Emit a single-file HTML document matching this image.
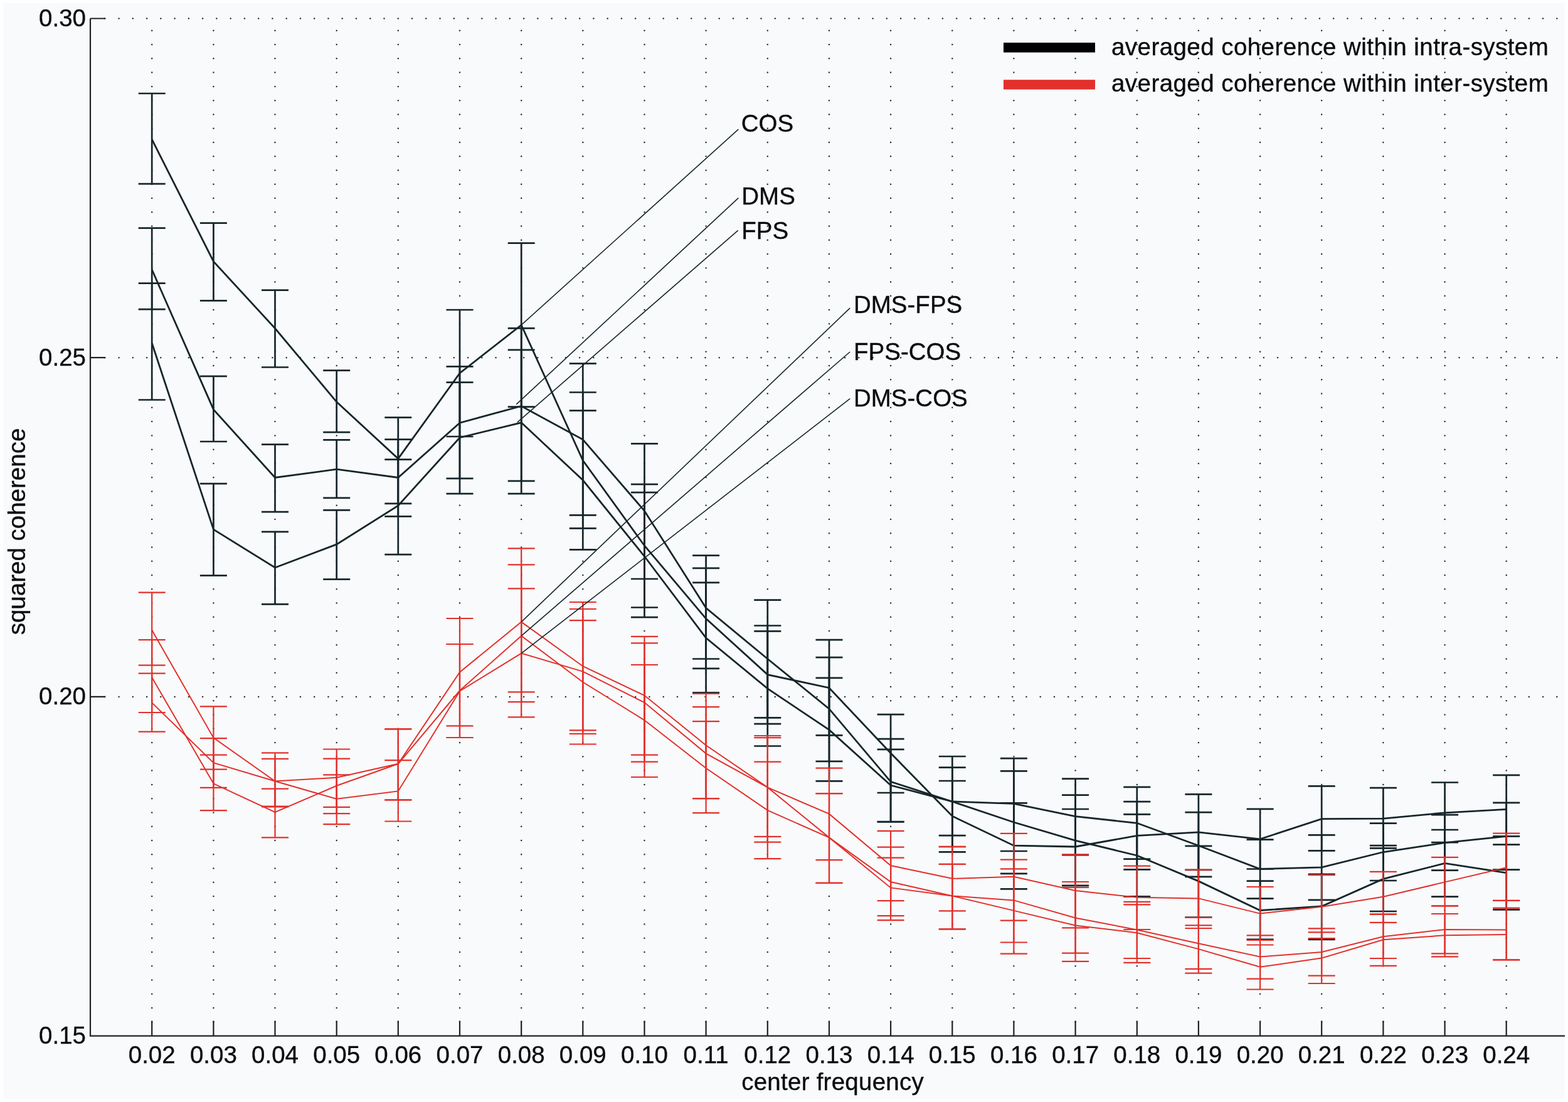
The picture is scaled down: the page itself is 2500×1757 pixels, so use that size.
<!DOCTYPE html>
<html><head><meta charset="utf-8"><title>squared coherence vs center frequency</title>
<style>html,body{margin:0;padding:0;background:#fff;}body{width:2500px;height:1757px;overflow:hidden;}svg{display:block;}text{font-family:'Liberation Sans', Arial, Helvetica, sans-serif;fill:#080c0d;stroke:#080c0d;stroke-width:0.35px;}</style>
</head><body>
<svg width="2500" height="1757" viewBox="0 0 2500 1757">
<rect x="0" y="0" width="2500" height="1757" fill="#ffffff"/>
<rect x="5" y="5" width="2490" height="1747" fill="#f9fafb"/>
<g stroke="#2a3032" stroke-width="2.5" stroke-dasharray="0 22.26" stroke-linecap="round">
<line x1="167.3" y1="29.5" x2="2491.0" y2="29.5"/>
<line x1="167.3" y1="570.2" x2="2491.0" y2="570.2"/>
<line x1="167.3" y1="1110.9" x2="2491.0" y2="1110.9"/>
<line x1="242.2" y1="1629.3" x2="242.2" y2="33.5"/>
<line x1="340.4" y1="1629.3" x2="340.4" y2="33.5"/>
<line x1="438.5" y1="1629.3" x2="438.5" y2="33.5"/>
<line x1="536.7" y1="1629.3" x2="536.7" y2="33.5"/>
<line x1="634.8" y1="1629.3" x2="634.8" y2="33.5"/>
<line x1="733.0" y1="1629.3" x2="733.0" y2="33.5"/>
<line x1="831.2" y1="1629.3" x2="831.2" y2="33.5"/>
<line x1="929.3" y1="1629.3" x2="929.3" y2="33.5"/>
<line x1="1027.5" y1="1629.3" x2="1027.5" y2="33.5"/>
<line x1="1125.6" y1="1629.3" x2="1125.6" y2="33.5"/>
<line x1="1223.8" y1="1629.3" x2="1223.8" y2="33.5"/>
<line x1="1322.0" y1="1629.3" x2="1322.0" y2="33.5"/>
<line x1="1420.1" y1="1629.3" x2="1420.1" y2="33.5"/>
<line x1="1518.3" y1="1629.3" x2="1518.3" y2="33.5"/>
<line x1="1616.4" y1="1629.3" x2="1616.4" y2="33.5"/>
<line x1="1714.6" y1="1629.3" x2="1714.6" y2="33.5"/>
<line x1="1812.8" y1="1629.3" x2="1812.8" y2="33.5"/>
<line x1="1910.9" y1="1629.3" x2="1910.9" y2="33.5"/>
<line x1="2009.1" y1="1629.3" x2="2009.1" y2="33.5"/>
<line x1="2107.2" y1="1629.3" x2="2107.2" y2="33.5"/>
<line x1="2205.4" y1="1629.3" x2="2205.4" y2="33.5"/>
<line x1="2303.6" y1="1629.3" x2="2303.6" y2="33.5"/>
<line x1="2401.7" y1="1629.3" x2="2401.7" y2="33.5"/>
</g>
<path d="M242.2 149.0V293.1M220.7 149.0H263.7M220.7 293.1H263.7M340.4 355.6V479.3M318.9 355.6H361.9M318.9 479.3H361.9M438.5 462.7V585.5M417.0 462.7H460.0M417.0 585.5H460.0M536.7 590.6V689.2M515.2 590.6H558.2M515.2 689.2H558.2M634.8 665.6V802.8M613.3 665.6H656.3M613.3 802.8H656.3M733.0 494.0V696.0M711.5 494.0H754.5M711.5 696.0H754.5M831.2 387.6V648.6M809.7 387.6H852.7M809.7 648.6H852.7M929.3 625.5V842.3M907.8 625.5H950.8M907.8 842.3H950.8M1027.5 772.2V968.5M1006.0 772.2H1049.0M1006.0 968.5H1049.0M1125.6 905.9V1065.8M1104.1 905.9H1147.1M1104.1 1065.8H1147.1M1223.8 997.5V1154.2M1202.3 997.5H1245.3M1202.3 1154.2H1245.3M1322.0 1020.2V1172.4M1300.5 1020.2H1343.5M1300.5 1172.4H1343.5M1420.1 1139.1V1264.0M1398.6 1139.1H1441.6M1398.6 1264.0H1441.6M1518.3 1245.0V1358.3M1496.8 1245.0H1539.8M1496.8 1358.3H1539.8M1616.4 1280.4V1417.4M1594.9 1280.4H1637.9M1594.9 1417.4H1637.9M1714.6 1290.0V1412.0M1693.1 1290.0H1736.1M1693.1 1412.0H1736.1M1812.8 1278.1V1386.3M1791.3 1278.1H1834.3M1791.3 1386.3H1834.3M1910.9 1266.4V1387.0M1889.4 1266.4H1932.4M1889.4 1387.0H1932.4M2009.1 1289.9V1385.5M1987.6 1289.9H2030.6M1987.6 1385.5H2030.6M2107.2 1253.4V1356.4M2085.7 1253.4H2128.7M2085.7 1356.4H2128.7M2205.4 1256.2V1352.4M2183.9 1256.2H2226.9M2183.9 1352.4H2226.9M2303.6 1247.5V1343.1M2282.1 1247.5H2325.1M2282.1 1343.1H2325.1M2401.7 1235.9V1346.6M2380.2 1235.9H2423.2M2380.2 1346.6H2423.2" fill="none" stroke="#15262b" stroke-width="2.7"/>
<polyline points="242.2,222.2 340.4,416.9 438.5,523.5 536.7,640.8 634.8,731.4 733.0,595.0 831.2,518.1 929.3,734.0 1027.5,870.0 1125.6,986.4 1223.8,1075.6 1322.0,1096.7 1420.1,1200.8 1518.3,1301.2 1616.4,1348.2 1714.6,1350.0 1812.8,1332.4 1910.9,1326.8 2009.1,1337.8 2107.2,1305.6 2205.4,1305.2 2303.6,1295.8 2401.7,1290.4" fill="none" stroke="#15262b" stroke-width="2.8" stroke-linejoin="miter"/>
<path d="M242.2 363.6V493.2M220.7 363.6H263.7M220.7 493.2H263.7M340.4 599.8V704.0M318.9 599.8H361.9M318.9 704.0H361.9M438.5 708.7V816.2M417.0 708.7H460.0M417.0 816.2H460.0M536.7 701.3V793.9M515.2 701.3H558.2M515.2 793.9H558.2M634.8 700.7V823.3M613.3 700.7H656.3M613.3 823.3H656.3M733.0 584.4V762.8M711.5 584.4H754.5M711.5 762.8H754.5M831.2 523.3V766.8M809.7 523.3H852.7M809.7 766.8H852.7M929.3 579.6V821.3M907.8 579.6H950.8M907.8 821.3H950.8M1027.5 707.3V923.0M1006.0 707.3H1049.0M1006.0 923.0H1049.0M1125.6 885.7V1050.5M1104.1 885.7H1147.1M1104.1 1050.5H1147.1M1223.8 956.7V1144.4M1202.3 956.7H1245.3M1202.3 1144.4H1245.3M1322.0 1048.1V1213.8M1300.5 1048.1H1343.5M1300.5 1213.8H1343.5M1420.1 1178.1V1310.5M1398.6 1178.1H1441.6M1398.6 1310.5H1441.6M1518.3 1206.0V1350.0M1496.8 1206.0H1539.8M1496.8 1350.0H1539.8M1616.4 1209.2V1357.0M1594.9 1209.2H1637.9M1594.9 1357.0H1637.9M1714.6 1241.7V1363.1M1693.1 1241.7H1736.1M1693.1 1363.1H1736.1M1812.8 1254.9V1369.6M1791.3 1254.9H1834.3M1791.3 1369.6H1834.3M1910.9 1295.2V1397.8M1889.4 1295.2H1932.4M1889.4 1397.8H1932.4M2009.1 1338.7V1432.6M1987.6 1338.7H2030.6M1987.6 1432.6H2030.6M2107.2 1331.3V1434.8M2085.7 1331.3H2128.7M2085.7 1434.8H2128.7M2205.4 1312.6V1404.0M2183.9 1312.6H2226.9M2183.9 1404.0H2226.9M2303.6 1299.1V1387.7M2282.1 1299.1H2325.1M2282.1 1387.7H2325.1M2401.7 1279.9V1386.6M2380.2 1279.9H2423.2M2380.2 1386.6H2423.2" fill="none" stroke="#15262b" stroke-width="2.7"/>
<polyline points="242.2,429.8 340.4,652.9 438.5,761.5 536.7,748.2 634.8,761.5 733.0,674.2 831.2,647.5 929.3,700.8 1027.5,814.5 1125.6,969.3 1223.8,1050.5 1322.0,1130.2 1420.1,1246.4 1518.3,1278.0 1616.4,1281.3 1714.6,1301.7 1812.8,1312.3 1910.9,1348.2 2009.1,1385.5 2107.2,1382.9 2205.4,1358.5 2303.6,1343.7 2401.7,1333.3" fill="none" stroke="#15262b" stroke-width="2.8" stroke-linejoin="miter"/>
<path d="M242.2 451.6V637.5M220.7 451.6H263.7M220.7 637.5H263.7M340.4 771.1V917.7M318.9 771.1H361.9M318.9 917.7H361.9M438.5 847.8V963.4M417.0 847.8H460.0M417.0 963.4H460.0M536.7 813.3V923.7M515.2 813.3H558.2M515.2 923.7H558.2M634.8 732.6V884.2M613.3 732.6H656.3M613.3 884.2H656.3M733.0 609.6V787.2M711.5 609.6H754.5M711.5 787.2H754.5M831.2 557.8V787.2M809.7 557.8H852.7M809.7 787.2H852.7M929.3 654.6V876.3M907.8 654.6H950.8M907.8 876.3H950.8M1027.5 785.1V984.2M1006.0 785.1H1049.0M1006.0 984.2H1049.0M1125.6 928.8V1104.4M1104.1 928.8H1147.1M1104.1 1104.4H1147.1M1223.8 1006.3V1189.5M1202.3 1006.3H1245.3M1202.3 1189.5H1245.3M1322.0 1080.8V1245.4M1300.5 1080.8H1343.5M1300.5 1245.4H1343.5M1420.1 1194.9V1310.0M1398.6 1194.9H1441.6M1398.6 1310.0H1441.6M1518.3 1223.7V1332.2M1496.8 1223.7H1539.8M1496.8 1332.2H1539.8M1616.4 1229.3V1392.8M1594.9 1229.3H1637.9M1594.9 1392.8H1637.9M1714.6 1267.7V1412.0M1693.1 1267.7H1736.1M1693.1 1412.0H1736.1M1812.8 1298.4V1429.4M1791.3 1298.4H1834.3M1791.3 1429.4H1834.3M1910.9 1348.8V1462.5M1889.4 1348.8H1932.4M1889.4 1462.5H1932.4M2009.1 1404.7V1497.9M1987.6 1404.7H2030.6M1987.6 1497.9H2030.6M2107.2 1393.8V1497.9M2085.7 1393.8H2128.7M2085.7 1497.9H2128.7M2205.4 1348.1V1453.0M2183.9 1348.1H2226.9M2183.9 1453.0H2226.9M2303.6 1323.0V1429.7M2282.1 1323.0H2325.1M2282.1 1429.7H2325.1M2401.7 1333.3V1450.4M2380.2 1333.3H2423.2M2380.2 1450.4H2423.2" fill="none" stroke="#15262b" stroke-width="2.7"/>
<polyline points="242.2,547.0 340.4,844.1 438.5,905.0 536.7,867.9 634.8,806.1 733.0,697.7 831.2,673.8 929.3,765.5 1027.5,887.0 1125.6,1017.1 1223.8,1097.9 1322.0,1163.6 1420.1,1252.0 1518.3,1278.0 1616.4,1311.0 1714.6,1340.2 1812.8,1364.0 1910.9,1404.9 2009.1,1451.5 2107.2,1445.0 2205.4,1401.4 2303.6,1376.4 2401.7,1391.6" fill="none" stroke="#15262b" stroke-width="2.8" stroke-linejoin="miter"/>
<path d="M242.2 944.7V1060.6M220.7 944.7H263.7M220.7 1060.6H263.7M340.4 1126.4V1226.6M318.9 1126.4H361.9M318.9 1226.6H361.9M438.5 1200.3V1286.4M417.0 1200.3H460.0M417.0 1286.4H460.0M536.7 1194.5V1286.8M515.2 1194.5H558.2M515.2 1286.8H558.2M634.8 1162.3V1275.3M613.3 1162.3H656.3M613.3 1275.3H656.3M733.0 986.0V1157.4M711.5 986.0H754.5M711.5 1157.4H754.5M831.2 874.3V1103.3M809.7 874.3H852.7M809.7 1103.3H852.7M929.3 960.0V1164.4M907.8 960.0H950.8M907.8 1164.4H950.8M1027.5 1014.8V1203.7M1006.0 1014.8H1049.0M1006.0 1203.7H1049.0M1125.6 1105.9V1273.1M1104.1 1105.9H1147.1M1104.1 1273.1H1147.1M1223.8 1173.0V1333.8M1202.3 1173.0H1245.3M1202.3 1333.8H1245.3M1322.0 1224.7V1371.2M1300.5 1224.7H1343.5M1300.5 1371.2H1343.5M1420.1 1324.8V1436.2M1398.6 1324.8H1441.6M1398.6 1436.2H1441.6M1518.3 1350.0V1452.4M1496.8 1350.0H1539.8M1496.8 1452.4H1539.8M1616.4 1328.8V1467.7M1594.9 1328.8H1637.9M1594.9 1467.7H1637.9M1714.6 1362.4V1479.4M1693.1 1362.4H1736.1M1693.1 1479.4H1736.1M1812.8 1380.7V1482.0M1791.3 1380.7H1834.3M1791.3 1482.0H1834.3M1910.9 1386.6V1480.0M1889.4 1386.6H1932.4M1889.4 1480.0H1932.4M2009.1 1414.0V1499.0M1987.6 1414.0H2030.6M1987.6 1499.0H2030.6M2107.2 1395.1V1496.0M2085.7 1395.1H2128.7M2085.7 1496.0H2128.7M2205.4 1389.8V1470.9M2183.9 1389.8H2226.9M2183.9 1470.9H2226.9M2303.6 1366.8V1444.3M2282.1 1366.8H2325.1M2282.1 1444.3H2325.1M2401.7 1328.7V1435.8M2380.2 1328.7H2423.2M2380.2 1435.8H2423.2" fill="none" stroke="#e2302c" stroke-width="2.2"/>
<polyline points="242.2,1004.6 340.4,1176.4 438.5,1245.5 536.7,1239.8 634.8,1217.8 733.0,1071.7 831.2,991.6 929.3,1062.2 1027.5,1108.8 1125.6,1188.3 1223.8,1255.4 1322.0,1297.7 1420.1,1380.1 1518.3,1400.8 1616.4,1397.8 1714.6,1420.0 1812.8,1430.8 1910.9,1432.4 2009.1,1456.6 2107.2,1445.7 2205.4,1429.8 2303.6,1406.4 2401.7,1383.2" fill="none" stroke="#e2302c" stroke-width="2.0" stroke-linejoin="miter"/>
<path d="M242.2 1020.2V1136.0M220.7 1020.2H263.7M220.7 1136.0H263.7M340.4 1203.7V1292.2M318.9 1203.7H361.9M318.9 1292.2H361.9M438.5 1257.6V1335.3M417.0 1257.6H460.0M417.0 1335.3H460.0M536.7 1209.6V1297.1M515.2 1209.6H558.2M515.2 1297.1H558.2M634.8 1162.3V1275.3M613.3 1162.3H656.3M613.3 1275.3H656.3M733.0 1027.0V1176.0M711.5 1027.0H754.5M711.5 1176.0H754.5M831.2 900.4V1119.1M809.7 900.4H852.7M809.7 1119.1H852.7M929.3 989.1V1186.5M907.8 989.1H950.8M907.8 1186.5H950.8M1027.5 1060.0V1239.0M1006.0 1060.0H1049.0M1006.0 1239.0H1049.0M1125.6 1150.2V1296.2M1104.1 1150.2H1147.1M1104.1 1296.2H1147.1M1223.8 1214.7V1369.2M1202.3 1214.7H1245.3M1202.3 1369.2H1245.3M1322.0 1265.2V1407.9M1300.5 1265.2H1343.5M1300.5 1407.9H1343.5M1420.1 1367.6V1467.2M1398.6 1367.6H1441.6M1398.6 1467.2H1441.6M1518.3 1377.8V1481.4M1496.8 1377.8H1539.8M1496.8 1481.4H1539.8M1616.4 1385.3V1520.7M1594.9 1385.3H1637.9M1594.9 1520.7H1637.9M1714.6 1415.0V1532.9M1693.1 1415.0H1736.1M1693.1 1532.9H1736.1M1812.8 1442.3V1534.9M1791.3 1442.3H1834.3M1791.3 1534.9H1834.3M1910.9 1475.4V1551.7M1889.4 1475.4H1932.4M1889.4 1551.7H1932.4M2009.1 1506.5V1577.5M1987.6 1506.5H2030.6M1987.6 1577.5H2030.6M2107.2 1486.3V1568.0M2085.7 1486.3H2128.7M2085.7 1568.0H2128.7M2205.4 1457.6V1539.8M2183.9 1457.6H2226.9M2183.9 1539.8H2226.9M2303.6 1457.0V1525.4M2282.1 1457.0H2325.1M2282.1 1525.4H2325.1M2401.7 1447.7V1530.3M2380.2 1447.7H2423.2M2380.2 1530.3H2423.2" fill="none" stroke="#e2302c" stroke-width="2.2"/>
<polyline points="242.2,1080.1 340.4,1249.3 438.5,1295.0 536.7,1252.8 634.8,1217.8 733.0,1101.0 831.2,1013.8 929.3,1087.5 1027.5,1148.3 1125.6,1224.8 1223.8,1291.9 1322.0,1335.4 1420.1,1415.4 1518.3,1428.4 1616.4,1451.9 1714.6,1475.4 1812.8,1487.3 1910.9,1513.1 2009.1,1541.8 2107.2,1527.6 2205.4,1498.2 2303.6,1491.3 2401.7,1489.9" fill="none" stroke="#e2302c" stroke-width="2.0" stroke-linejoin="miter"/>
<path d="M242.2 1073.6V1166.7M220.7 1073.6H263.7M220.7 1166.7H263.7M340.4 1177.2V1255.8M318.9 1177.2H361.9M318.9 1255.8H361.9M438.5 1209.9V1285.7M417.0 1209.9H460.0M417.0 1285.7H460.0M536.7 1235.4V1314.1M515.2 1235.4H558.2M515.2 1314.1H558.2M634.8 1212.2V1309.5M613.3 1212.2H656.3M613.3 1309.5H656.3M733.0 1027.0V1176.0M711.5 1027.0H754.5M711.5 1176.0H754.5M831.2 938.4V1143.3M809.7 938.4H852.7M809.7 1143.3H852.7M929.3 971.0V1170.0M907.8 971.0H950.8M907.8 1170.0H950.8M1027.5 1025.4V1214.7M1006.0 1025.4H1049.0M1006.0 1214.7H1049.0M1125.6 1127.1V1273.1M1104.1 1127.1H1147.1M1104.1 1273.1H1147.1M1223.8 1176.1V1342.6M1202.3 1176.1H1245.3M1202.3 1342.6H1245.3M1322.0 1265.2V1407.9M1300.5 1265.2H1343.5M1300.5 1407.9H1343.5M1420.1 1350.7V1460.2M1398.6 1350.7H1441.6M1398.6 1460.2H1441.6M1518.3 1377.8V1481.4M1496.8 1377.8H1539.8M1496.8 1481.4H1539.8M1616.4 1370.7V1502.5M1594.9 1370.7H1637.9M1594.9 1502.5H1637.9M1714.6 1406.0V1519.6M1693.1 1406.0H1736.1M1693.1 1519.6H1736.1M1812.8 1437.8V1528.0M1791.3 1437.8H1834.3M1791.3 1528.0H1834.3M1910.9 1462.8V1544.8M1889.4 1462.8H1932.4M1889.4 1544.8H1932.4M2009.1 1491.3V1560.7M1987.6 1491.3H2030.6M1987.6 1560.7H2030.6M2107.2 1480.4V1555.7M2085.7 1480.4H2128.7M2085.7 1555.7H2128.7M2205.4 1457.6V1528.0M2183.9 1457.6H2226.9M2183.9 1528.0H2226.9M2303.6 1444.3V1520.4M2282.1 1444.3H2325.1M2282.1 1520.4H2325.1M2401.7 1435.8V1530.3M2380.2 1435.8H2423.2M2380.2 1530.3H2423.2" fill="none" stroke="#e2302c" stroke-width="2.2"/>
<polyline points="242.2,1120.4 340.4,1216.2 438.5,1245.5 536.7,1273.8 634.8,1261.4 733.0,1102.0 831.2,1041.6 929.3,1070.6 1027.5,1120.1 1125.6,1201.3 1223.8,1255.4 1322.0,1335.4 1420.1,1406.0 1518.3,1428.4 1616.4,1435.4 1714.6,1463.5 1812.8,1482.4 1910.9,1504.2 2009.1,1525.4 2107.2,1518.0 2205.4,1493.3 2303.6,1482.0 2401.7,1482.4" fill="none" stroke="#e2302c" stroke-width="2.0" stroke-linejoin="miter"/>
<g stroke="#15262b" stroke-width="1.6">
<line x1="831.2" y1="518.1" x2="1177.3" y2="206.2"/>
<line x1="823.3" y1="644.7" x2="1177.3" y2="315.7"/>
<line x1="824.8" y1="673.4" x2="1176.7" y2="367.3"/>
<line x1="831.2" y1="991.6" x2="1355.2" y2="491.2"/>
<line x1="831.2" y1="1013.8" x2="1355.2" y2="561.0"/>
<line x1="831.2" y1="1041.6" x2="1355.2" y2="635.7"/>
</g>
<g font-size="38.5">
<text x="1181.7" y="210.1">COS</text>
<text x="1182.3" y="326.0">DMS</text>
<text x="1182.3" y="381.0">FPS</text>
<text x="1361.0" y="499.1">DMS-FPS</text>
<text x="1361.0" y="574.2">FPS-COS</text>
<text x="1361.0" y="648.2">DMS-COS</text>
</g>
<path d="M144.0 29.5V1651.6H2495.0M144.0 29.5H168.0M144.0 570.2H168.0M144.0 1110.9H168.0M242.2 1651.6V1627.6M340.4 1651.6V1627.6M438.5 1651.6V1627.6M536.7 1651.6V1627.6M634.8 1651.6V1627.6M733.0 1651.6V1627.6M831.2 1651.6V1627.6M929.3 1651.6V1627.6M1027.5 1651.6V1627.6M1125.6 1651.6V1627.6M1223.8 1651.6V1627.6M1322.0 1651.6V1627.6M1420.1 1651.6V1627.6M1518.3 1651.6V1627.6M1616.4 1651.6V1627.6M1714.6 1651.6V1627.6M1812.8 1651.6V1627.6M1910.9 1651.6V1627.6M2009.1 1651.6V1627.6M2107.2 1651.6V1627.6M2205.4 1651.6V1627.6M2303.6 1651.6V1627.6M2401.7 1651.6V1627.6" fill="none" stroke="#1d2224" stroke-width="2.2"/>
<g font-size="38.5">
<text x="137" y="42.0" text-anchor="end">0.30</text>
<text x="137" y="582.7" text-anchor="end">0.25</text>
<text x="137" y="1123.4" text-anchor="end">0.20</text>
<text x="137" y="1664.1" text-anchor="end">0.15</text>
<text x="242.2" y="1694.5" text-anchor="middle">0.02</text>
<text x="340.4" y="1694.5" text-anchor="middle">0.03</text>
<text x="438.5" y="1694.5" text-anchor="middle">0.04</text>
<text x="536.7" y="1694.5" text-anchor="middle">0.05</text>
<text x="634.8" y="1694.5" text-anchor="middle">0.06</text>
<text x="733.0" y="1694.5" text-anchor="middle">0.07</text>
<text x="831.2" y="1694.5" text-anchor="middle">0.08</text>
<text x="929.3" y="1694.5" text-anchor="middle">0.09</text>
<text x="1027.5" y="1694.5" text-anchor="middle">0.10</text>
<text x="1125.6" y="1694.5" text-anchor="middle">0.11</text>
<text x="1223.8" y="1694.5" text-anchor="middle">0.12</text>
<text x="1322.0" y="1694.5" text-anchor="middle">0.13</text>
<text x="1420.1" y="1694.5" text-anchor="middle">0.14</text>
<text x="1518.3" y="1694.5" text-anchor="middle">0.15</text>
<text x="1616.4" y="1694.5" text-anchor="middle">0.16</text>
<text x="1714.6" y="1694.5" text-anchor="middle">0.17</text>
<text x="1812.8" y="1694.5" text-anchor="middle">0.18</text>
<text x="1910.9" y="1694.5" text-anchor="middle">0.19</text>
<text x="2009.1" y="1694.5" text-anchor="middle">0.20</text>
<text x="2107.2" y="1694.5" text-anchor="middle">0.21</text>
<text x="2205.4" y="1694.5" text-anchor="middle">0.22</text>
<text x="2303.6" y="1694.5" text-anchor="middle">0.23</text>
<text x="2401.7" y="1694.5" text-anchor="middle">0.24</text>
<text x="1327.6" y="1738" text-anchor="middle" letter-spacing="0.25">center frequency</text>
<text transform="translate(39.6 847.5) rotate(-90)" text-anchor="middle">squared coherence</text>
</g>
<rect x="1600" y="68" width="146" height="15.6" fill="#000"/>
<rect x="1600" y="127.2" width="146" height="15.4" fill="#e2302c"/>
<g font-size="38.5">
<text x="1772" y="87.5" letter-spacing="0.44">averaged coherence within intra-system</text>
<text x="1772" y="146.1" letter-spacing="0.44">averaged coherence within inter-system</text>
</g>
</svg>
</body></html>
